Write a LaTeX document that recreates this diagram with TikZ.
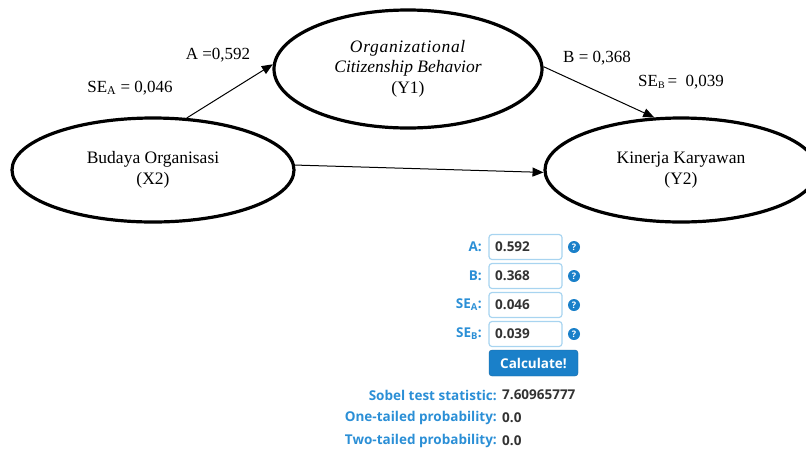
\documentclass[tikz,border=0pt]{standalone}
\usepackage{fontspec}
\setmainfont{Liberation Serif}
\newfontfamily\formfont{Open Sans}
\usetikzlibrary{shapes.geometric,arrows.meta}
\definecolor{lblue}{HTML}{2B8FD6}
\definecolor{bblue}{HTML}{1A80C9}
\definecolor{boxb}{HTML}{A8D4F0}
\definecolor{valtxt}{HTML}{333333}
\tikzset{
  latent/.style={ellipse,draw=black,line width=3.2pt,inner sep=0pt,align=center,font=\fontsize{17.5}{21}\selectfont},
  path/.style={line width=1pt,-{Triangle[length=11pt,width=9pt]}},
  coef/.style={font=\fontsize{17}{20}\selectfont,inner sep=0pt},
  flabel/.style={anchor=east,inner sep=0pt,text=lblue,font=\formfont\bfseries\fontsize{13.5}{16}\selectfont},
  fval/.style={anchor=west,inner sep=0pt,text=valtxt,font=\formfont\bfseries\fontsize{13.5}{16}\selectfont},
  inbox/.style={draw=boxb,line width=1.2pt,rounded corners=3pt,minimum width=73pt,minimum height=25pt,inner sep=0pt},
  qmark/.style={circle,fill=bblue,minimum size=12pt,inner sep=0pt,text=white,font=\formfont\bfseries\fontsize{9}{9}\selectfont},
  button/.style={draw=bblue!80!black,fill=bblue,rounded corners=3pt,minimum width=89pt,minimum height=26pt,inner sep=0pt,text=white,font=\formfont\bfseries\fontsize{13.5}{16}\selectfont}
}
\begin{document}
\begin{tikzpicture}[x=1pt,y=-1pt]
\useasboundingbox (0,0) rectangle (806,451);
% latent variables
\node[latent,minimum width=268pt,minimum height=118pt] (y1) at (408,69)
  {\textit{\addfontfeature{LetterSpace=4}Organizational}\\[-1pt]\textit{Citizenship Behavior}\\(Y1)};
\node[latent,minimum width=282pt,minimum height=104pt] (x2) at (153,170)
  {Budaya Organisasi\\(X2)};
\node[latent,minimum width=272pt,minimum height=104pt] (y2) at (681,170)
  {Kinerja Karyawan\\(Y2)};
% paths
\draw[path] (x2.57) -- (y1.178);
\draw[path] (y1.1) -- (y2.117);
\draw[path] (x2.2) -- (y2.181);
% coefficients
\node[coef] (a) at (218,55) {A =0,592};
\node[coef] (sea) at (130,88) {SE\textsubscript{A} = 0,046};
\node[coef] (b) at (597,58) {B = 0,368};
\node[coef,anchor=west] (seb) at (638,82) {SE{\fontsize{10}{10}\selectfont\raisebox{-2.5pt}{B}}\,=\ \ 0,039};
% form
\foreach \n/\l/\v/\yy in {fa/A:/0.592/247, fb/B:/0.368/276, fsa/SE\textsubscript{A}:/0.046/305, fsb/SE\textsubscript{B}:/0.039/334}{
  \node[flabel] (\n l) at (482,\yy) {\l};
  \node[inbox] (\n b) at (525.5,\yy) {};
  \node[fval] (\n v) at (495,\yy) {\v};
  \node[qmark] (\n q) at (574,\yy) {?};
}
\node[button] (calc) at (533.5,363) {Calculate!};
\node[flabel] (sl) at (497,395) {Sobel test statistic:};
\node[fval] (sv) at (502,395) {7.60965777};
\node[flabel] (ol) at (497,418) {One-tailed probability:};
\node[fval] (ov) at (502,418) {0.0};
\node[flabel] (tl) at (497,441) {Two-tailed probability:};
\node[fval] (tv) at (502,441) {0.0};
\end{tikzpicture}
\end{document}
